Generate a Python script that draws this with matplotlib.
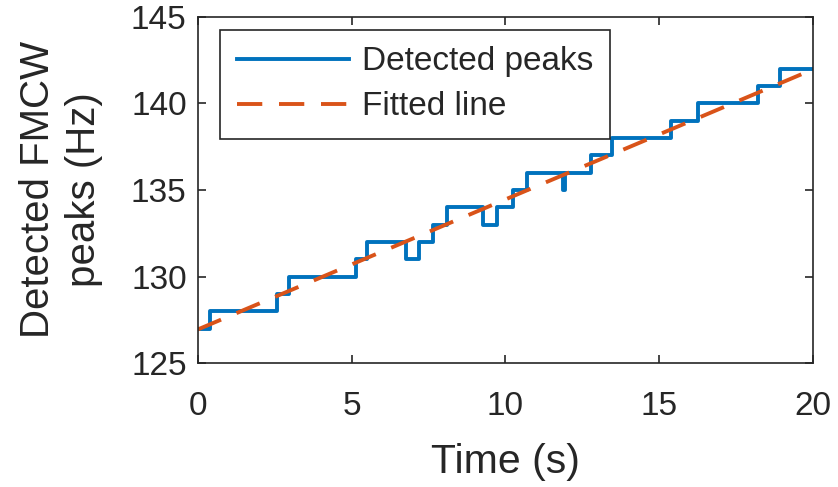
import numpy as np
import matplotlib
matplotlib.use("Agg")
import matplotlib.pyplot as plt

# step changes of the detected peak frequency (time in s, level in Hz)
change_times = [0.0, 0.41, 2.58, 2.97, 5.14, 5.49, 6.76, 7.20, 7.65, 8.09,
                9.28, 9.74, 10.26, 10.69, 11.88, 11.93, 12.80, 13.47, 15.40,
                16.27, 18.22, 18.93, 20.0]
peak_levels = [127, 128, 129, 130, 131, 132, 131, 132, 133, 134,
               133, 134, 135, 136, 135, 136, 137, 138, 139,
               140, 141, 142, 142]

# linear fit of the peaks
fit_intercept = 126.95
fit_slope = 0.75
fit_t = np.array([0.0, 20.0])

axis_gray = "#262626"
plt.rcParams["font.family"] = ["Liberation Sans", "DejaVu Sans"]
plt.rcParams["text.color"] = axis_gray
plt.rcParams["axes.labelcolor"] = axis_gray
plt.rcParams["xtick.color"] = axis_gray
plt.rcParams["ytick.color"] = axis_gray

fig = plt.figure(figsize=(8.38, 4.87), dpi=100)
ax = fig.add_axes([0.236, 0.254, 0.734, 0.712])

ax.step(change_times, peak_levels, where="post", color="#0072BD", lw=2.8,
        label="Detected peaks")
ax.plot(fit_t, fit_intercept + fit_slope * fit_t, color="#D95319", lw=2.8,
        linestyle=(0, (6.5, 4.3)), label="Fitted line")

ax.set_xlim(0, 20)
ax.set_ylim(125, 145)
ax.set_xticks([0, 5, 10, 15, 20])
ax.set_yticks([125, 130, 135, 140, 145])
ax.tick_params(direction="in", top=True, right=True, length=6, width=1.2,
               labelsize=24)
ax.tick_params(axis="x", pad=20)
ax.tick_params(axis="y", pad=8)
for s in ax.spines.values():
    s.set_color(axis_gray)
    s.set_linewidth(1.2)

ax.set_xlabel("Time (s)", fontsize=29.5, labelpad=15)
ax.set_ylabel("Detected FMCW\npeaks (Hz)", fontsize=29, labelpad=20,
              linespacing=1.27)

leg = ax.legend(loc="upper left", bbox_to_anchor=(0.036, 0.962), fontsize=24,
                handlelength=3.36, handletextpad=0.39, borderpad=0.5,
                labelspacing=0.42, fancybox=False, framealpha=1,
                borderaxespad=0)
leg.get_frame().set_edgecolor(axis_gray)
leg.get_frame().set_linewidth(1.2)

fig.savefig("out.png", dpi=100)
